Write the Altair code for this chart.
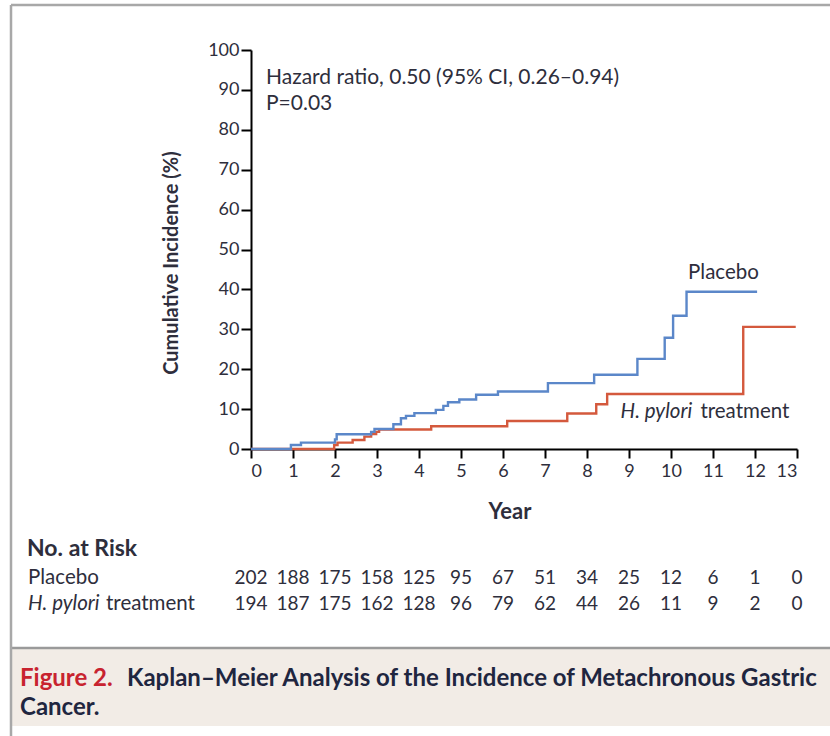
import altair as alt
import pandas as pd

# ---- data ----
placebo_years = [0, 0.95, 1.19, 2.0, 2.04, 2.86, 2.94, 3.39, 3.57, 3.69, 3.89, 4.4, 4.58, 4.69,
                 4.96, 5.36, 5.88, 7.07, 8.17, 9.2, 9.85, 10.05, 10.37, 12.05]
placebo_pct = [0, 1.0, 1.6, 2.4, 3.7, 4.3, 5.0, 6.2, 7.7, 8.3, 9.0, 9.8, 10.8, 11.7,
               12.4, 13.6, 14.4, 16.5, 18.6, 22.6, 27.9, 33.4, 39.4, 39.4]
hp_years = [0, 1.98, 2.06, 2.42, 2.7, 2.86, 2.98, 3.05, 4.29, 6.1, 7.53, 8.22, 8.48, 11.72, 12.97]
hp_pct = [0, 1.0, 1.6, 2.25, 3.1, 3.75, 4.3, 4.9, 5.7, 7.0, 8.9, 11.2, 13.8, 30.6, 30.6]

risk_years = list(range(14))
risk_placebo = [202, 188, 175, 158, 125, 95, 67, 51, 34, 25, 12, 6, 1, 0]
risk_hp = [194, 187, 175, 162, 128, 96, 79, 62, 44, 26, 11, 9, 2, 0]

x_ticks = list(range(14))
y_ticks = list(range(0, 101, 10))

BLUE = "#5b87c9"
RED = "#d4593d"
TXT = "#2e2e3c"
NAVY = "#1f2640"
FONT = "Lato"

W, H = 546, 399
xs = alt.Scale(domain=[0, 13], nice=False, zero=False)
ys = alt.Scale(domain=[0, 100], nice=False)
AX = alt.Axis(values=x_ticks, labelPadding=4, tickSize=9, labelOverlap=False, tickCount=14)
AY = alt.Axis(values=y_ticks, labelPadding=2, tickSize=10, labelOverlap=False, tickCount=11)

df_p = pd.DataFrame({"year": placebo_years, "pct": placebo_pct})
df_h = pd.DataFrame({"year": hp_years, "pct": hp_pct})
one = pd.DataFrame({"a": [0]})


def X(field="year:Q"):
    return alt.X(field, scale=xs, title=None, axis=AX)


def Y(field="pct:Q"):
    return alt.Y(field, scale=ys, title=None, axis=AY)


line_h = alt.Chart(df_h).mark_line(interpolate="step-after", color=RED, strokeWidth=2.4).encode(
    x=X(), y=Y())
line_p = alt.Chart(df_p).mark_line(interpolate="step-after", color=BLUE, strokeWidth=2.4).encode(
    x=X(), y=Y())

# curve labels (data coordinates)
lab_p = alt.Chart(pd.DataFrame({"year": [11.25], "pct": [44.2], "t": ["Placebo"]})).mark_text(
    font=FONT, fontSize=20.5, color=TXT, align="center", baseline="middle").encode(
    x=X(), y=Y(), text="t:N")
lab_h1 = alt.Chart(pd.DataFrame({"year": [8.8], "pct": [9.3], "t": ["H. pylori"]})).mark_text(
    font=FONT, fontSize=20.5, fontStyle="italic", color=TXT, align="left", baseline="middle").encode(
    x=X(), y=Y(), text="t:N")
lab_h2 = alt.Chart(pd.DataFrame({"year": [10.7], "pct": [9.3], "t": ["treatment"]})).mark_text(
    font=FONT, fontSize=20.5, color=TXT, align="left", baseline="middle").encode(
    x=X(), y=Y(), text="t:N")

# at-risk rows
df_rp = pd.DataFrame({"year": risk_years, "n": risk_placebo})
df_rh = pd.DataFrame({"year": risk_years, "n": risk_hp})
risk_p = alt.Chart(df_rp).mark_text(
    font=FONT, fontSize=19, color=TXT, align="center", baseline="middle").encode(
    x=X(), y=alt.value(528), text="n:Q")
risk_h = alt.Chart(df_rh).mark_text(
    font=FONT, fontSize=19, color=TXT, align="center", baseline="middle").encode(
    x=X(), y=alt.value(554), text="n:Q")


def txt(text, x, y, size=17, weight="normal", style="normal", color=TXT, align="left", angle=0):
    props = dict(font=FONT, fontSize=size, fontWeight=weight, fontStyle=style, color=color,
                 align=align, baseline="middle", text=text)
    if angle:
        props["angle"] = angle
    return alt.Chart(one).mark_text(**props).encode(x=alt.value(x), y=alt.value(y))


# decorations: frame and caption box
frame_top = alt.Chart(one).mark_rule(color="#a8a8a8", strokeWidth=2.5).encode(
    x=alt.value(-240), x2=alt.value(580), y=alt.value(-45))
frame_left = alt.Chart(one).mark_rule(color="#a8a8a8", strokeWidth=2.5).encode(
    x=alt.value(-240), y=alt.value(-45), y2=alt.value(690))
cap_box = alt.Chart(one).mark_rect(color="#f2ece6").encode(
    x=alt.value(-239), x2=alt.value(580), y=alt.value(599), y2=alt.value(676))
cap_line = alt.Chart(one).mark_rule(color="#9a9a9a", strokeWidth=2.5).encode(
    x=alt.value(-240), x2=alt.value(580), y=alt.value(598))

texts = [
    txt("Hazard ratio, 0.50 (95% CI, 0.26\u20130.94)", 15, 27.5, size=21),
    txt("P=0.03", 15, 54, size=21),
    txt("Cumulative Incidence (%)", -79, 213, size=20, weight="bold", align="center", angle=270),
    txt("Year", 259, 462, size=22, weight="bold", align="center"),
    txt("No. at Risk", -224, 499, size=23, weight="bold"),
    txt("Placebo", -223, 528, size=20.5),
    txt("H. pylori", -223, 554, size=20.5, style="italic"),
    txt("treatment", -145, 554, size=20.5),
    txt("Figure 2.", -231, 628.5, size=24, weight="bold", color="#c8232f"),
    txt("Kaplan\u2013Meier Analysis of the Incidence of Metachronous Gastric", -124, 628.5, size=24,
        weight="bold", color=NAVY),
    txt("Cancer.", -231, 658, size=24, weight="bold", color=NAVY),
]

chart = alt.layer(
    cap_box, cap_line, frame_top, frame_left,
    line_h, line_p, lab_p, lab_h1, lab_h2, risk_p, risk_h, *texts
).properties(
    width=W, height=H,
    autosize=alt.AutoSizeParams(type="none"),
    padding={"left": 251, "top": 50, "right": 33, "bottom": 287},
    background="white",
).configure_view(stroke=None).configure_axis(
    domainColor="black", domainWidth=2, tickColor="black", tickWidth=2, grid=False,
    labelFont=FONT, labelFontSize=18, labelColor=TXT,
)

chart.save("out.html", embed_options={"renderer": "svg", "actions": False})
